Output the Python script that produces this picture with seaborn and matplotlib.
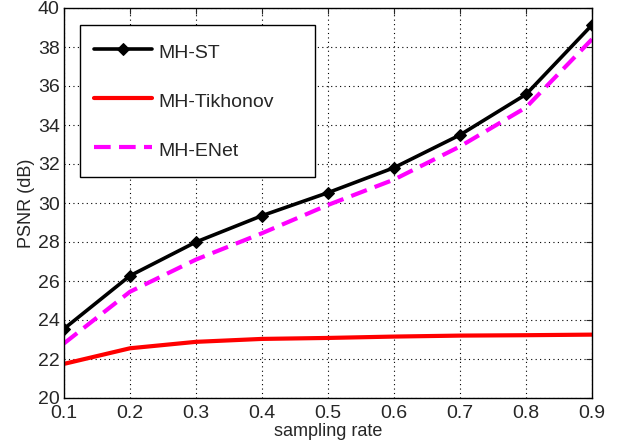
import numpy as np
import pandas as pd
import seaborn as sns
from matplotlib import pyplot as plt

rates = [0.1, 0.2, 0.3, 0.4, 0.5, 0.6, 0.7, 0.8, 0.9]
mh_st = [23.55, 26.27, 28.0, 29.35, 30.53, 31.81, 33.49, 35.57, 39.13]
mh_tikhonov = [21.75, 22.55, 22.88, 23.03, 23.08, 23.15, 23.2, 23.22, 23.25]
mh_enet = [22.8, 25.45, 27.1, 28.45, 29.9, 31.2, 32.9, 34.9, 38.4]

if __name__ == '__main__':
    sns.set_style('white')
    plt.rcParams['font.family'] = ['Liberation Sans', 'DejaVu Sans']

    fig = plt.figure(figsize=(6.22, 4.47), dpi=100)
    ax = fig.add_axes([64 / 622, 49 / 447, 528 / 622, 390 / 447])

    sns.lineplot(x=rates, y=mh_st, ax=ax, color='black', lw=2.6, marker='D',
                 markersize=6.5, markeredgecolor='black', label='MH-ST')
    sns.lineplot(x=rates, y=mh_tikhonov, ax=ax, color='red', lw=3, label='MH-Tikhonov')
    sns.lineplot(x=rates, y=mh_enet, ax=ax, color='magenta', lw=3, label='MH-ENet')
    ax.lines[2].set_dashes([4, 2])

    ax.set_xlim(0.1, 0.9)
    ax.set_ylim(20, 40)
    ax.set_xticks(rates)
    ax.set_yticks(np.arange(20, 41, 2))
    ax.tick_params(direction='in', top=True, right=True, labelsize=14, length=4)
    ax.tick_params(axis='x', pad=5)
    ax.tick_params(axis='y', pad=3)
    ax.grid(True, linestyle=(0, (1, 3)), color='black', lw=0.8)
    for s in ax.spines.values():
        s.set_color('black')
        s.set_linewidth(1)
    ax.set_xlabel('sampling rate', fontsize=13, labelpad=1)
    ax.set_ylabel('PSNR (dB)', fontsize=13, labelpad=2)

    leg = ax.legend(loc='upper left', bbox_to_anchor=(0.0303, 0.0, 0.445, 0.956),
                    mode='expand', fontsize=14,
                    fancybox=False, edgecolor='black', framealpha=1,
                    labelspacing=1.18, handleheight=1.68, handlelength=3,
                    handletextpad=0.3, borderpad=0.72, borderaxespad=0)
    leg.get_frame().set_linewidth(1)

    fig.savefig('out.png', dpi=100)
